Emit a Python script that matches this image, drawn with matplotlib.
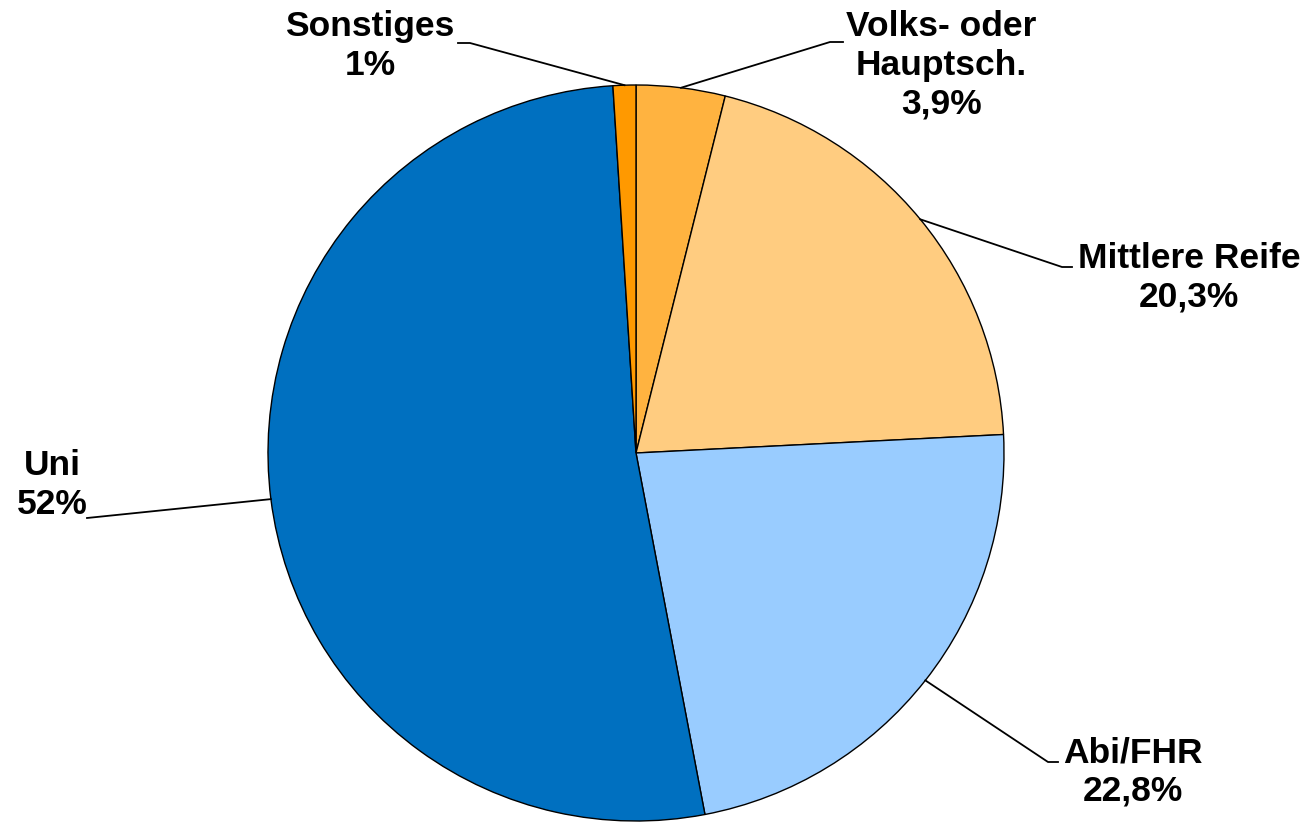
import matplotlib
matplotlib.use("Agg")
import matplotlib.pyplot as plt
import numpy as np

# Daten
labels = ["Volks- oder\nHauptsch.", "Mittlere Reife", "Abi/FHR", "Uni", "Sonstiges"]
werte = [3.9, 20.3, 22.8, 52.0, 1.0]
texte = ["3,9%", "20,3%", "22,8%", "52%", "1%"]
farben = ["#FFB340", "#FFCC80", "#99CCFF", "#0070C0", "#FF9900"]

plt.rcParams["font.family"] = ["Liberation Sans", "DejaVu Sans"]

W, H = 1309, 826
fig = plt.figure(figsize=(W / 100, H / 100), dpi=100)
ax = fig.add_axes([0, 0, 1, 1])

cx, cy, r = 636, H - 453, 368
wedges, _ = ax.pie(werte, colors=farben, startangle=90, counterclock=False,
                   center=(cx, cy), radius=r, frame=True,
                   wedgeprops=dict(edgecolor="black", linewidth=1))
ax.set_xlim(0, W)
ax.set_ylim(0, H)
ax.axis("off")

# Beschriftung: Knickpunkt, Textmitte (Pixel von oben)
knick = [(830, 42), (1062, 267), (1048, 762), (87, 518), (470, 43)]
ende = [(843, 42), (1072, 267), (1058, 762), (87, 518), (458, 43)]
textpos = [(941, 65), (1189, 278), (1133, 772), (52, 485), (370, 46)]

for w, lab, t, k, e, tp in zip(wedges, labels, texte, knick, ende, textpos):
    ang = np.deg2rad((w.theta1 + w.theta2) / 2)
    x0 = cx + r * np.cos(ang)
    y0 = cy + r * np.sin(ang)
    ax.plot([x0, k[0], e[0]], [y0, H - k[1], H - e[1]], color="black", lw=1.3)
    ax.text(tp[0], H - tp[1], lab + "\n" + t, ha="center", va="center",
            fontsize=25.5, fontweight="bold", linespacing=1.22)

fig.savefig("out.png", dpi=100)
